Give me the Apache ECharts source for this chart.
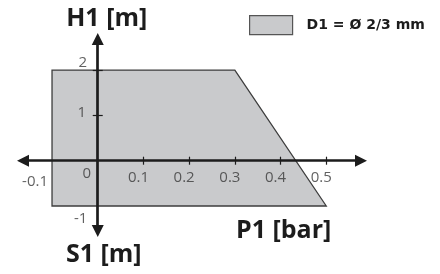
<!DOCTYPE html>
<html>
<head>
<meta charset="utf-8">
<script src="https://cdn.jsdelivr.net/npm/echarts@6/dist/echarts.min.js"></script>
<style>
  html, body { margin: 0; padding: 0; background: #fff; }
  #chart { width: 440px; height: 274px; }
</style>
</head>
<body>
<div id="chart"></div>
<script>
// range polygon (P1 in bar, H1/S1 in m)
const seriesName = 'D1 = Ø 2/3 mm'
const pressure = [-0.1, -0.1, 0.3, 0.5]
const height = [-1, 2, 2, -1]

const xTicks = [0.1, 0.2, 0.3, 0.4, 0.5]
const xLabels = [-0.1, 0, 0.1, 0.2, 0.3, 0.4, 0.5]
const yTicks = [1, 2]
const yLabels = [2, 1, -1]

const font = '"Open Sans", "DejaVu Sans", sans-serif'
const ink = '#1c1c1c'
const labelColor = '#3a3a3a'
const tickStyle = { color: ink, width: 1.2 }
const xRange = { min: -0.1635, max: 0.576 }
const yRange = { min: -1.552, max: 2.687 }

let chart = echarts.init(document.getElementById('chart'))

// label nudges, the drawing puts them a bit off the tick
function xOffset(v) {
    if (v === -0.1) return [-17, 21]
    if (v === 0) return [-11, 13]
    return [-5, 17]
}
function yOffset(v) {
    if (v === 2) return [-15, -7]
    if (v === 1) return [-16, -3]
    return [-17, 13]
}

const tickLabels = [
    ...xLabels.map(v => ({ value: [v, 0], text: String(v), offset: xOffset(v) })),
    ...yLabels.map(v => ({ value: [0, v], text: String(v), offset: yOffset(v) }))
].map(d => ({
    value: d.value,
    label: { formatter: d.text, offset: d.offset }
}))

const titleStyle = {
    fontFamily: font,
    fontSize: 25,
    fontWeight: 'bold',
    color: ink
}

chart.setOption({
    animation: false,
    grid: { left: 23, right: 79, top: 39, bottom: 43, outerBoundsMode: 'none', containLabel: false },
    legend: {
        data: [seriesName],
        left: 244,
        top: 10,
        icon: 'rect',
        itemWidth: 43,
        itemHeight: 19,
        itemStyle: { color: '#c9cacc', borderColor: '#555', borderWidth: 1.2 },
        textStyle: {
            fontFamily: '"DejaVu Sans", sans-serif',
            fontSize: 14,
            fontWeight: 'bold',
            color: ink,
            padding: [0, 0, 0, 9]
        }
    },
    xAxis: [{
        type: 'value',
        ...xRange,
        z: 5,
        splitLine: { show: false },
        axisLine: {
            onZero: true,
            lineStyle: { color: ink, width: 2.7 },
            symbol: ['triangle', 'triangle'],
            symbolSize: [12, 12]
        },
        axisTick: { customValues: xTicks, inside: true, length: 4, lineStyle: tickStyle },
        axisLabel: { show: false }
    }, {
        type: 'value',
        position: 'top',
        ...xRange,
        z: 5,
        splitLine: { show: false },
        axisLine: { show: false, onZero: true },
        axisTick: { customValues: xTicks, inside: true, length: 4, lineStyle: tickStyle },
        axisLabel: { show: false }
    }],
    yAxis: [{
        type: 'value',
        ...yRange,
        z: 5,
        name: 'H1 [m]',
        nameLocation: 'end',
        nameGap: 8,
        nameMoveOverlap: false,
        nameTextStyle: Object.assign({ padding: [0, 0, 0, 18] }, titleStyle),
        splitLine: { show: false },
        axisLine: {
            onZero: true,
            lineStyle: { color: ink, width: 2.7 },
            symbol: ['triangle', 'triangle'],
            symbolSize: [12, 12]
        },
        axisTick: { customValues: yTicks, inside: true, length: 5, lineStyle: tickStyle },
        axisLabel: { show: false }
    }, {
        type: 'value',
        position: 'right',
        ...yRange,
        z: 5,
        name: 'S1 [m]',
        nameLocation: 'start',
        nameGap: 11,
        nameMoveOverlap: false,
        nameTextStyle: Object.assign({ padding: [0, 0, 0, 12] }, titleStyle),
        splitLine: { show: false },
        axisLine: { show: false, onZero: true },
        axisTick: { customValues: yTicks, inside: true, length: 5, lineStyle: tickStyle },
        axisLabel: { show: false }
    }],
    graphic: [{
        type: 'text',
        left: 236,
        top: 218,
        style: {
            text: 'P1 [bar]',
            font: 'bold 25px ' + font,
            fill: ink
        }
    }],
    series: [{
        name: seriesName,
        type: 'custom',
        z: 1,
        itemStyle: { color: '#c9cacc', borderColor: '#444', borderWidth: 1.2 },
        data: [[pressure[0], height[0]]],
        renderItem: function (params, api) {
            const points = pressure.map((p, i) => api.coord([p, height[i]]))
            return {
                type: 'polygon',
                shape: { points },
                style: { fill: '#c9cacc', stroke: '#3d3d3d', lineWidth: 1.3 }
            }
        }
    }, {
        name: 'tick labels',
        type: 'scatter',
        z: 6,
        silent: true,
        symbolSize: 1,
        itemStyle: { color: 'transparent' },
        label: {
            show: true,
            position: 'inside',
            fontFamily: font,
            fontSize: 15,
            color: labelColor
        },
        data: tickLabels
    }]
})
</script>
</body>
</html>
